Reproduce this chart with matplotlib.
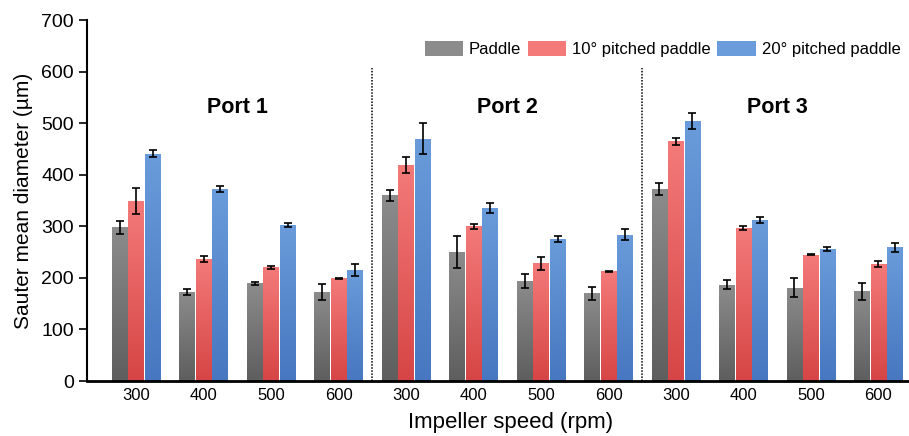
import numpy as np
import matplotlib.pyplot as plt
from matplotlib.colors import LinearSegmentedColormap
from matplotlib.patches import Patch

plt.rcParams['font.family'] = ['Liberation Sans', 'DejaVu Sans']

# impeller speeds, repeated for the three ports
speeds = ["300", "400", "500", "600"] * 3
ports = ["Port 1", "Port 2", "Port 3"]
series = ["Paddle", "10° pitched paddle", "20° pitched paddle"]

# Sauter mean diameter (um), Port 1 | Port 2 | Port 3
paddle = [298, 173, 190, 173, 360, 251, 194, 170, 372, 187, 181, 174]
paddle_err = [12, 6, 3, 15, 11, 31, 13, 13, 12, 9, 18, 17]
pitch10 = [349, 237, 221, 199, 419, 300, 228, 213, 465, 297, 245, 227]
pitch10_err = [25, 6, 3, 1, 15, 5, 12, 1, 7, 4, 1, 6]
pitch20 = [441, 372, 303, 215, 470, 336, 276, 284, 504, 313, 256, 259]
pitch20_err = [7, 6, 4, 12, 30, 10, 6, 10, 16, 6, 3, 9]

#gradient colours (top, bottom) for each series
grads = [("#8c8c8c", "#5e5e5e"), ("#f47a7a", "#d64545"), ("#6a9bda", "#4677c0")]

fig = plt.figure(figsize=(9.09, 4.36), dpi=100)
ax = fig.add_axes([0.0957, 0.126, 0.904, 0.828])

x = np.arange(len(speeds))
w = 0.23
data = [(paddle, paddle_err), (pitch10, pitch10_err), (pitch20, pitch20_err)]
grad = np.linspace(0, 1, 256).reshape(-1, 1)
for i, (vals, errs) in enumerate(data):
    pos = x + (i - 1) * 0.245
    bars = ax.bar(pos, vals, w, color="none", edgecolor="none", zorder=2)
    cmap = LinearSegmentedColormap.from_list("g%d" % i, [grads[i][1], grads[i][0]])
    for b in bars:
        x0, y0 = b.get_x(), b.get_y()
        im = ax.imshow(grad, cmap=cmap, aspect="auto", origin="lower",
                       extent=[x0, x0 + b.get_width(), y0, y0 + b.get_height()], zorder=2)
        im.set_clip_path(b)
    ax.errorbar(pos, vals, yerr=errs, fmt="none", ecolor="black", elinewidth=1.2,
                capsize=3, capthick=1.2, zorder=3)

#dotted separators between ports
for s in [3.5, 7.5]:
    ax.axvline(s, ymax=0.867, color="black", linestyle=(0, (1, 1)), linewidth=1.1)
for j, p in enumerate(ports):
    ax.text(1.5 + 4 * j, 530, p, ha="center", va="center", fontsize=15.5, fontweight="bold")

ax.set_xlim(-0.73, 11.45)
ax.set_ylim(0, 700)
ax.set_yticks(range(0, 701, 100))
ax.set_xticks(x)
ax.set_xticklabels(speeds)
ax.tick_params(axis="x", length=0, labelsize=12, pad=5)
ax.tick_params(axis="y", length=6, width=1.2, labelsize=14)
ax.spines["top"].set_visible(False)
ax.spines["right"].set_visible(False)
ax.spines["left"].set_linewidth(1.5)
ax.spines["bottom"].set_linewidth(2)
ax.set_xlabel("Impeller speed (rpm)", fontsize=16)
ax.xaxis.set_label_coords(0.515, -0.085)
ax.set_ylabel("Sauter mean diameter (µm)", fontsize=15, labelpad=6)

handles = [Patch(facecolor=grads[i][0], edgecolor="none") for i in range(3)]
ax.legend(handles, series, loc="upper right", ncol=3, frameon=False, fontsize=12,
          handlelength=2.3, handleheight=1.0, columnspacing=0.4, handletextpad=0.35,
          borderaxespad=0.1, bbox_to_anchor=(1.0, 0.965))

plt.savefig("out.png", dpi=100)
